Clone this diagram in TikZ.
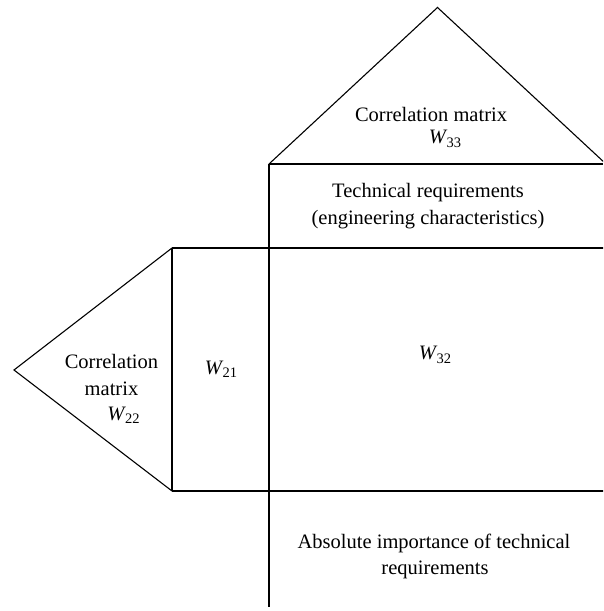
\documentclass[tikz,border=0pt]{standalone}
\usepackage{fontspec}
\setmainfont{Liberation Serif}
\newcommand{\Wsub}[1]{\textit{W}\kern-0.04em\raisebox{-0.35ex}{\fontsize{14.5}{14.5}\selectfont #1}}
\begin{document}
\begin{tikzpicture}[x=1pt,y=1pt,
  edge/.style={draw=black,line width=1.1pt},
  lbl/.style={font=\fontsize{20.5}{24}\selectfont,inner sep=0pt,align=center}]
\useasboundingbox (0,0) rectangle (603,611);
\begin{scope}
\clip (0,0) rectangle (603,611);
% top triangle (roof)
\coordinate (tl) at (269,447);
\coordinate (tt) at (437.5,603.5);
\coordinate (tr) at (606,447);
\draw[edge,line join=miter] (tl) -- (tt) -- (tr);
\draw[edge] (tl) -- (603,447);
% horizontal lines
\coordinate (hl1) at (172,363);
\coordinate (hr1) at (604,363);
\coordinate (hl2) at (172,120);
\coordinate (hr2) at (604,120);
\draw[edge] (hl1) -- (hr1);
\draw[edge] (hl2) -- (hr2);
% verticals
\coordinate (vb) at (269,4);
\draw[edge] (tl) -- (vb);
\draw[edge] (hl1) -- (hl2);
% left triangle
\coordinate (la) at (14,241);
\draw[edge,line join=miter] (hl1) -- (la) -- (hl2);
\end{scope}
% texts
\node[lbl] (cm3) at (431,497) {Correlation matrix};
\node[lbl] (w33) at (445,472) {\Wsub{33}};
\node[lbl] (tr1) at (428,418) {Technical requirements};
\node[lbl] (tr2) at (428,391) {(engineering characteristics)};
\node[lbl] (w32) at (435,256) {\Wsub{32}};
\node[lbl] (w21) at (221,242) {\Wsub{21}};
\node[lbl] (cm2a) at (111.5,250) {Correlation};
\node[lbl] (cm2b) at (111.5,222) {matrix};
\node[lbl] (w22) at (123.5,196) {\Wsub{22}};
\node[lbl] (ab1) at (434,68) {Absolute importance of technical};
\node[lbl] (ab2) at (435,41) {requirements};
\end{tikzpicture}
\end{document}
